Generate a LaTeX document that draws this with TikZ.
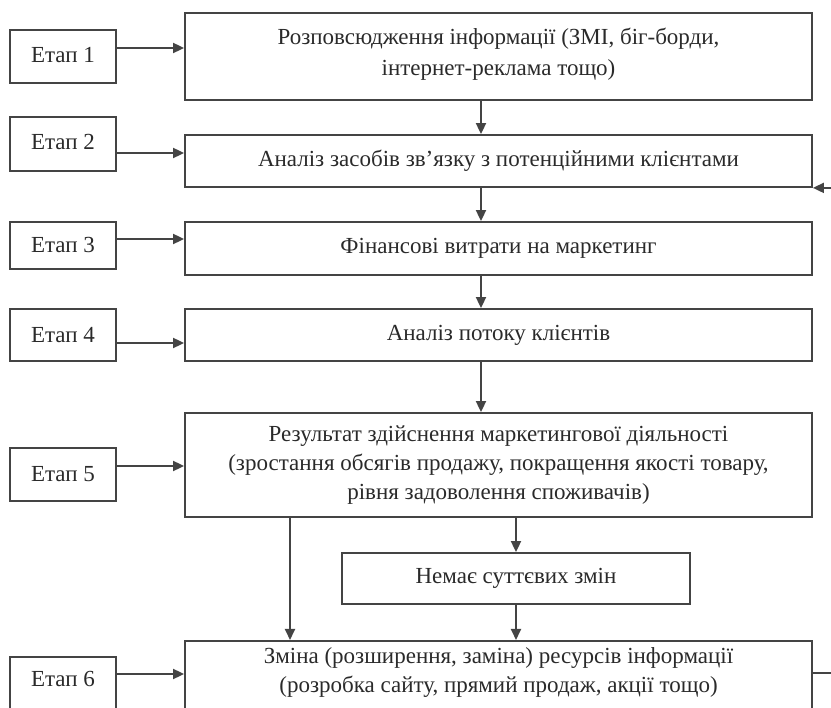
\documentclass[tikz,border=0pt]{standalone}
\usepackage{fontspec}
\setmainfont{Liberation Serif}
\usetikzlibrary{arrows.meta}
\definecolor{ln}{HTML}{444444}
\definecolor{tx}{HTML}{2a2a2a}
\tikzset{
  box/.style={draw=ln, line width=1.8pt, rectangle, inner sep=0pt, align=center, text=tx, font=\fontsize{23}{29}\selectfont},
  etap/.style={box, minimum width=106pt},
  main/.style={box, minimum width=627pt},
  arr/.style={draw=ln, line width=1.8pt, -{Triangle[length=11pt,width=10pt]}},
}
\begin{document}
\begin{tikzpicture}[x=1pt,y=-1pt]
\useasboundingbox (0,0) rectangle (831,708);
\clip (0,0) rectangle (831,708);
% main boxes
\node[main, minimum height=87pt] (b1) at (498.5,56.5) {};
\node[text=tx, font=\fontsize{23}{31}\selectfont, align=center, inner sep=0pt] (t1) at (498.5,54) {Розповсюдження інформації (ЗМІ, біг-борди,\\ інтернет-реклама тощо)};
\node[main, minimum height=52pt] (b2) at (498.5,161) {Аналіз засобів зв’язку з потенційними клієнтами};
\node[main, minimum height=53pt] (b3) at (498.5,248.5) {Фінансові витрати на маркетинг};
\node[main, minimum height=52pt] (b4) at (498.5,335) {Аналіз потоку клієнтів};
\node[main, minimum height=104pt] (b5) at (498.5,465) {Результат здійснення маркетингової діяльності\\ (зростання обсягів продажу, покращення якості товару,\\ рівня задоволення споживачів)};
\node[box, minimum width=348pt, minimum height=51pt] (nz) at (516,578.5) {Немає суттєвих змін};
\node[main, minimum height=80pt, anchor=north] (b6) at (498.5,640) {};
\node[text=tx, font=\fontsize{23}{29}\selectfont, align=center, inner sep=0pt] (t6) at (498.5,673) {Зміна (розширення, заміна) ресурсів інформації\\ (розробка сайту, прямий продаж, акції тощо)};
% etap boxes
\node[etap, minimum height=53pt] (e1) at (63,56.5) {\raisebox{3pt}{Етап 1}};
\node[etap, minimum height=54pt] (e2) at (63,144) {\raisebox{5pt}{Етап 2}};
\node[etap, minimum height=47pt] (e3) at (63,245.5) {Етап 3};
\node[etap, minimum height=52pt] (e4) at (63,335) {Етап 4};
\node[etap, minimum height=53pt] (e5) at (63,474.5) {\raisebox{2pt}{Етап 5}};
\node[etap, minimum height=60pt, anchor=north] (e6) at (63,656) {};
\node[text=tx, font=\fontsize{23}{29}\selectfont, inner sep=0pt] (t6e) at (63,679) {Етап 6};
% etap arrows
\draw[arr] (e1.east |- 0,48) -- (b1.west |- 0,48);
\draw[arr] (e2.east |- 0,153) -- (b2.west |- 0,153);
\draw[arr] (e3.east |- 0,239) -- (b3.west |- 0,239);
\draw[arr] (e4.east |- 0,343) -- (b4.west |- 0,343);
\draw[arr] (e5.east |- 0,466) -- (b5.west |- 0,466);
\draw[arr] (e6.east |- 0,674) -- (b6.west |- 0,674);
% vertical flow
\draw[arr] (b1.south -| 481,0) -- (b2.north -| 481,0);
\draw[arr] (b2.south -| 481,0) -- (b3.north -| 481,0);
\draw[arr] (b3.south -| 481,0) -- (b4.north -| 481,0);
\draw[arr] (b4.south -| 481,0) -- (b5.north -| 481,0);
\draw[arr] (b5.south -| 290,0) -- (b6.north -| 290,0);
\draw[arr] (b5.south -| nz.north) -- (nz.north);
\draw[arr] (nz.south) -- (b6.north -| nz.south);
% feedback loop
\coordinate (fb) at (850,0);
\draw[arr] (b6.east |- 0,673) -- (fb |- 0,673) -- (fb |- b2.south east) -- (b2.south east);
\end{tikzpicture}
\end{document}
